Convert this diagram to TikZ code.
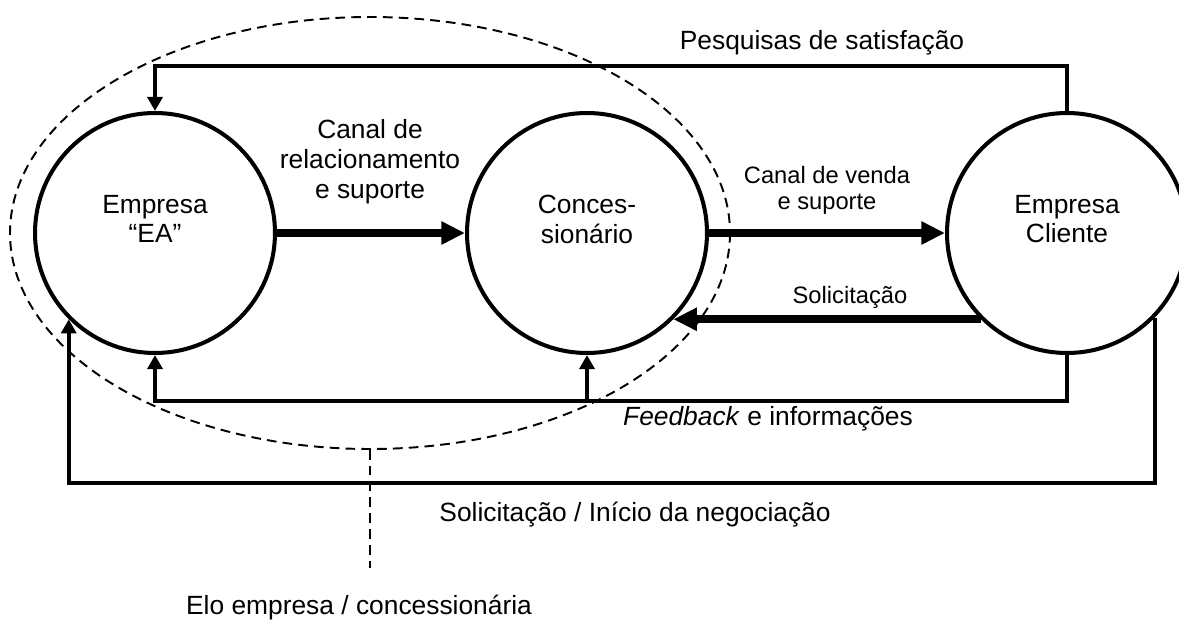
\documentclass[tikz,border=0pt]{standalone}
\usepackage{fontspec}
\setmainfont{Liberation Sans}
\usetikzlibrary{arrows.meta}

\begin{document}
\begin{tikzpicture}
		[x=0.02cm,y=-0.02cm,line join=miter,
		%Styles
		actor/.style={circle,draw,line width=2.3pt,minimum size=4.8cm,inner sep=0pt},
		link/.style={line width=2.3pt,-{Triangle[length=8pt,width=8.5pt]}},
		channel/.style={line width=4.8pt,-{Triangle[length=13.5pt,width=12.5pt]}},
		elo/.style={line width=1.1pt,dash pattern=on 5.5pt off 3.5pt},
		big text/.style={font=\fontsize{15}{17}\selectfont,align=center},
		small text/.style={font=\fontsize{13.5}{14.8}\selectfont,align=center}
		]
		
		\useasboundingbox (0,0) rectangle (1179,621);
		
		%Helper levels
		\coordinate (topline) at (0,66);
		\coordinate (fbline) at (0,401);
		\coordinate (negline) at (0,483);
		\coordinate (elobot) at (370,450);
		\coordinate (eloend) at (370,568);
		
		%The graphic
		\draw[elo] (370,233) ellipse [x radius=360, y radius=216];
		\draw[elo] (elobot) -- (eloend);
		
		\node[actor] (ea) at (155,233) {};
		\node[actor] (con) at (587,233) {};
		\node[actor] (cli) at (1067,233) {};
		
		\node[big text] (eatxt) at (155,219) {Empresa\\``EA''};
		\node[big text] (contxt) at (587,219) {Conces-\\sionário};
		\node[big text] (clitxt) at (1067,219) {Empresa\\Cliente};
		
		\draw[channel] (ea) -- (con);
		\draw[channel] (con) -- (cli);
		\draw[channel] (cli.-135) -- (con.-45);
		
		\draw[link] (cli.north) -- (cli.north |- topline) -| (ea.north);
		\draw[link] (cli.south) -- (cli.south |- fbline) -| (ea.south);
		\draw[link] (con.south |- fbline) -- (con.south);
		\draw[link] (cli.-44) -- (cli.-44 |- negline) -| (ea.-135);
		
		\node[big text] (reltxt) at (370,162) {Canal de\\relacionamento\\e suporte};
		\node[small text] (vendatxt) at (827,190) {Canal de venda\\e suporte};
		\node[small text] (soltxt) at (850,297) {Solicitação};
		\node[big text] (pestxt) at (822,43) {Pesquisas de satisfação};
		\node[big text] (fbtxt) at (768,419) {\textit{Feedback} e informações};
		\node[big text] (negtxt) at (635,515) {Solicitação / Início da negociação};
		\node[big text] (elotxt) at (359,608) {Elo empresa / concessionária};
	\end{tikzpicture}
\end{document}
